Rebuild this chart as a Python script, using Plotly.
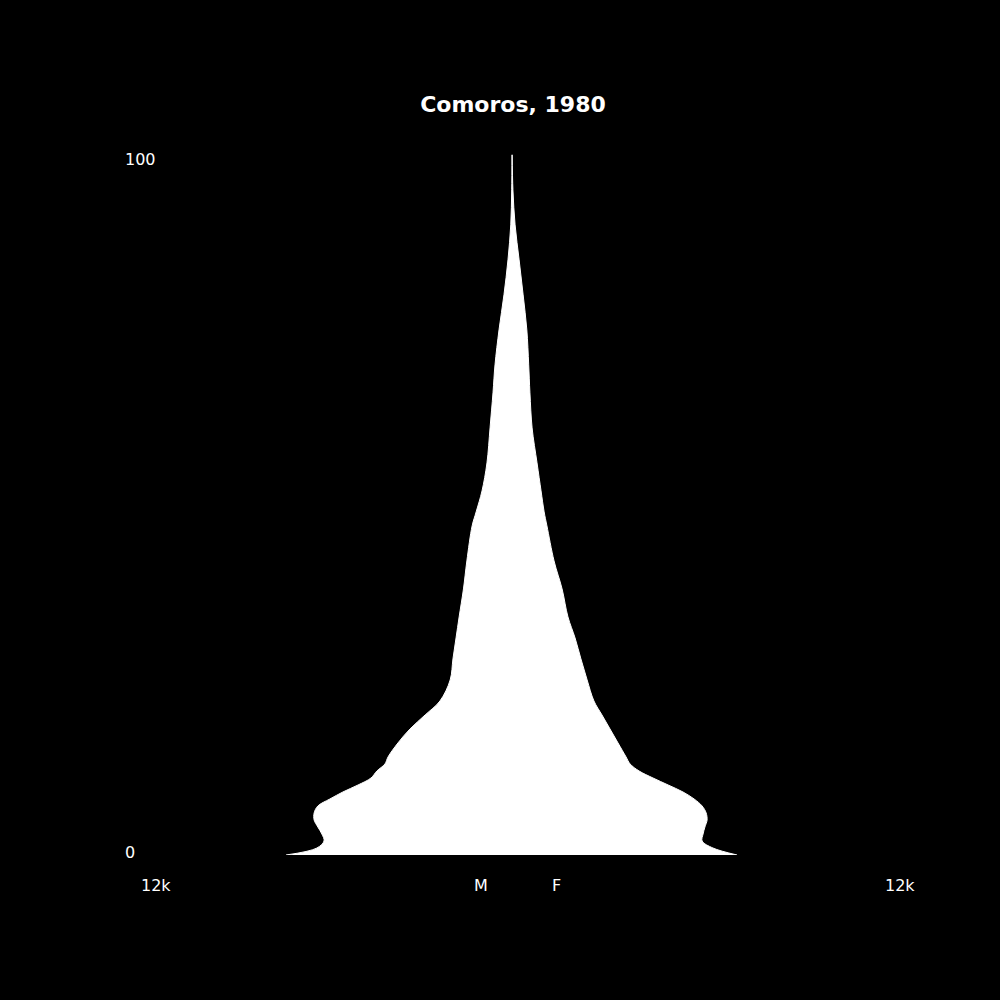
import plotly.graph_objects as go

# Comoros 1980 population by age
ages = [0, 1, 2, 3, 4, 5, 6, 7, 8, 9, 10, 11, 12, 13, 14, 16, 18, 20, 22, 25,
        28, 31, 34, 38, 42, 47, 49, 52, 56, 61, 66, 70, 75, 80, 85, 90, 95, 100]
male = [7310, 6310, 6080, 6150, 6280, 6400, 6400, 6280, 5890, 5470, 4980, 4560,
        4370, 4110, 4010, 3690, 3300, 2810, 2330, 2000, 1910, 1810, 1710, 1570,
        1460, 1290, 1160, 970, 810, 710, 615, 550, 420, 260, 130, 40, 10, 0]
female = [7280, 6500, 6150, 6180, 6240, 6310, 6280, 6150, 5890, 5530, 5050, 4560,
          4110, 3820, 3690, 3430, 3170, 2910, 2650, 2430, 2230, 2040, 1810, 1620,
          1360, 1130, 1040, 940, 810, 650, 580, 540, 480, 360, 230, 100, 30, 5]

max_x = 12000
title = "Comoros, 1980"
font = "DejaVu Sans"

fig = go.Figure()
fig.add_trace(go.Scatter(x=[-v for v in male], y=ages, mode="lines",
                         line=dict(color="white", width=1, shape="spline", smoothing=1.0),
                         fill="tozerox", fillcolor="white", hoverinfo="skip"))
fig.add_trace(go.Scatter(x=female, y=ages, mode="lines",
                         line=dict(color="white", width=1, shape="spline", smoothing=1.0),
                         fill="tozerox", fillcolor="white", hoverinfo="skip"))

lbl = dict(color="white", size=16, family=font)
annos = [
    dict(text="100", x=-0.0245, y=99.3, xref="paper", yref="y", xanchor="left", yanchor="middle"),
    dict(text="0", x=-0.0245, y=0.3, xref="paper", yref="y", xanchor="left", yanchor="middle"),
    dict(text="12k", x=(139 - 141) / 742, y=-0.043, xref="paper", yref="paper", xanchor="left", yanchor="middle"),
    dict(text="12k", x=(883 - 141) / 742, y=-0.043, xref="paper", yref="paper", xanchor="left", yanchor="middle"),
    dict(text="M", x=(472 - 141) / 742, y=-0.043, xref="paper", yref="paper", xanchor="left", yanchor="middle"),
    dict(text="F", x=(550 - 141) / 742, y=-0.043, xref="paper", yref="paper", xanchor="left", yanchor="middle"),
]
for a in annos:
    a.update(showarrow=False, font=lbl)

fig.update_layout(
    width=1000, height=1000,
    paper_bgcolor="black", plot_bgcolor="black",
    margin=dict(l=141, r=117, t=145, b=145),
    showlegend=False,
    title=dict(text="<b>" + title + "</b>", x=513 / 1000, xanchor="center",
               y=1 - 104 / 1000, yanchor="middle",
               font=dict(color="white", size=22, family=font)),
    xaxis=dict(range=[-max_x, max_x], visible=False, fixedrange=True),
    yaxis=dict(range=[0, 101.4], visible=False, fixedrange=True),
    annotations=annos,
)

fig.write_html("out.html", config={"displayModeBar": False},
               post_script="document.body.style.margin='0';document.body.style.background='black';")
